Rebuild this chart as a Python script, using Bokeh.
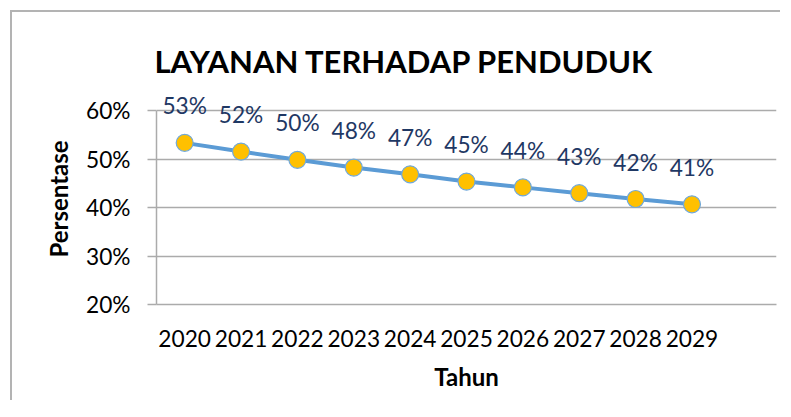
from bokeh.plotting import figure
from bokeh.models import FixedTicker, PrintfTickFormatter, Range1d, ColumnDataSource, InlineStyleSheet
from bokeh.core.properties import value
from bokeh.embed import file_html
from bokeh.resources import INLINE

# ---- data ----
years = ["2020", "2021", "2022", "2023", "2024", "2025", "2026", "2027", "2028", "2029"]
persentase = [53.4, 51.6, 49.9, 48.3, 46.9, 45.4, 44.2, 43.0, 41.8, 40.7]
y_ticks = [20, 30, 40, 50, 60]
title_text = "LAYANAN TERHADAP PENDUDUK"
x_title = "Tahun"
y_title = "Persentase"

FONT = "Lato"
xs = list(range(len(years)))
labels = [f"{round(v)}%" for v in persentase]
src = ColumnDataSource(dict(x=xs, y=persentase, lab=labels))

border_css = InlineStyleSheet(css="""
:host::before, :host::after {
  content: ""; position: absolute; left: 10px; top: 10px;
  background: #b3b3b3; pointer-events: none; z-index: 10;
}
:host::before { width: 2px; height: 390px; }
:host::after { width: 770px; height: 2px; }
""")

p = figure(width=791, height=417, output_backend="svg", toolbar_location=None, title=title_text,
           x_range=Range1d(-0.5, 10.5), y_range=Range1d(20, 63.6),
           min_border_left=156, min_border_right=15, min_border_top=93, min_border_bottom=113)
p.stylesheets = [border_css]
p.outline_line_color = None
p.background_fill_color = "white"
p.border_fill_color = "white"

# title
p.title.align = "left"
p.title.offset = -2
p.title.text_font = FONT
p.title.text_font_style = "bold"
p.title.text_font_size = "31px"
p.title.text_color = "#000000"
p.title.standoff = 28

grid_col = "#ababab"
# y axis
ya = p.yaxis[0]
ya.ticker = FixedTicker(ticks=y_ticks)
ya.formatter = PrintfTickFormatter(format="%d%%")
ya.bounds = (20, 60)
ya.axis_line_color = grid_col
ya.axis_line_width = 1.5
ya.major_tick_line_color = grid_col
ya.major_tick_line_width = 1.5
ya.major_tick_out = 9
ya.major_tick_in = 0
ya.minor_tick_line_color = None
ya.major_label_text_font = FONT
ya.major_label_text_font_size = "22.7px"
ya.major_label_text_color = "#000000"
ya.major_label_standoff = 17
ya.axis_label = y_title
ya.axis_label_text_font = FONT
ya.axis_label_text_font_style = "bold"
ya.axis_label_text_font_size = "24px"
ya.axis_label_text_color = "#000000"
ya.axis_label_standoff = 10

# x axis
xa = p.xaxis[0]
xa.ticker = FixedTicker(ticks=xs)
xa.major_label_overrides = {i: y for i, y in enumerate(years)}
xa.axis_line_color = grid_col
xa.axis_line_width = 1.5
xa.major_tick_line_color = None
xa.minor_tick_line_color = None
xa.major_label_text_font = FONT
xa.major_label_text_font_size = "22.7px"
xa.major_label_text_color = "#000000"
xa.major_label_standoff = 19
xa.axis_label = x_title
xa.axis_label_text_font = FONT
xa.axis_label_text_font_style = "bold"
xa.axis_label_text_font_size = "24px"
xa.axis_label_text_color = "#000000"
xa.axis_label_standoff = 12

p.xgrid.grid_line_color = None
p.ygrid.ticker = FixedTicker(ticks=y_ticks)
p.ygrid.grid_line_color = grid_col
p.ygrid.grid_line_width = 1.5

# series
p.line("x", "y", source=src, line_color="#5B9BD5", line_width=4)
p.scatter("x", "y", source=src, size=17, fill_color="#FFC000", line_color="#6FA8DC", line_width=1.2)
p.text("x", "y", text="lab", source=src, y_offset=-37, text_align="center", text_baseline="middle",
       text_font=value(FONT), text_font_size="22.7px", text_color="#1F3864")

open("out.html", "w").write(file_html(p, INLINE))
